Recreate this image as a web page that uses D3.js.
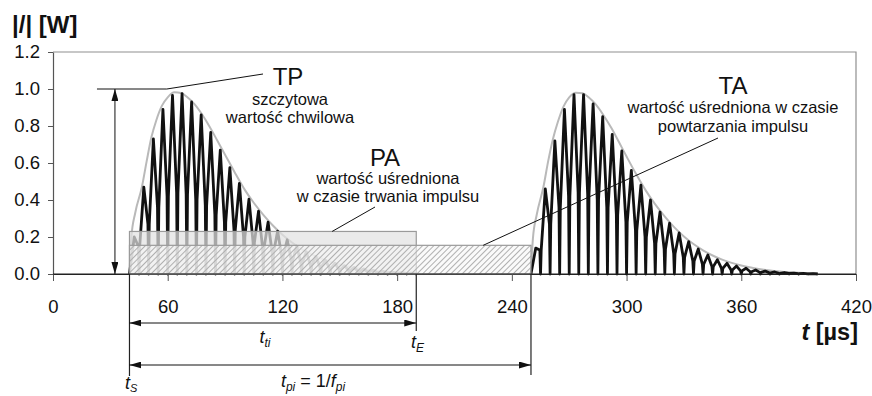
<!DOCTYPE html>
<html>
<head>
<meta charset="utf-8">
<script src="https://cdn.jsdelivr.net/npm/d3@7/dist/d3.min.js"></script>
<style>
  html, body { margin: 0; padding: 0; background: #fff; }
  svg { display: block; font-family: "Liberation Sans", Arial, Helvetica, sans-serif; }
</style>
</head>
<body>
<svg id="chart" width="872" height="396"></svg>
<script>
// Axis ticks: time in µs, power in W
const xTicks = [0, 60, 120, 180, 240, 300, 360, 420];
const yTicks = [0, 0.2, 0.4, 0.6, 0.8, 1.0, 1.2];

// Pulse 1: oscillation peaks, the shoulder level between consecutive peaks, gray envelope
const pulse1PeakTimes = [42.5, 47.5, 52.5, 57.5, 62.5, 67.5, 72.5, 77.5, 82.5, 87.5,
  92.5, 97.5, 102.5, 107.5, 112.5, 117.5, 122.5, 127.5, 132.5, 137.5,
  142.5, 147.5, 152.5, 157.5, 162.5, 167.5, 172.5, 177.5, 182.5, 187.5];
const pulse1Peaks = [0.2, 0.47, 0.73, 0.89, 0.965, 0.975, 0.93, 0.86, 0.765, 0.67,
  0.575, 0.49, 0.405, 0.34, 0.28, 0.232, 0.185, 0.15, 0.12, 0.095,
  0.075, 0.058, 0.045, 0.035, 0.027, 0.02, 0.015, 0.011, 0.008, 0.005];
const pulse1Shoulders = [0.15, 0.27, 0.36, 0.42, 0.44, 0.43, 0.40, 0.37, 0.32, 0.28,
  0.24, 0.20, 0.17, 0.14, 0.115, 0.094, 0.075, 0.06, 0.048, 0.038,
  0.03, 0.023, 0.018, 0.014, 0.011, 0.008, 0.006, 0.004, 0.003];
const pulse1EnvTimes = [40, 41, 43, 46.5, 49, 51.5, 54, 57, 60, 63.5, 67, 70, 74, 78, 82, 86, 90,
  95, 100, 105, 110, 115, 120, 125, 130, 135, 140, 145, 150, 155, 160, 165, 170, 175, 180, 185, 190];
const pulse1Env = [0, 0.2, 0.33, 0.47, 0.61, 0.74, 0.83, 0.91, 0.955, 0.982, 0.978, 0.958, 0.918,
  0.862, 0.795, 0.72, 0.645, 0.55, 0.46, 0.385, 0.32, 0.262, 0.212, 0.17, 0.135, 0.107, 0.085,
  0.066, 0.051, 0.039, 0.03, 0.023, 0.017, 0.012, 0.009, 0.006, 0.004];

// Pulse 2
const pulse2PeakTimes = [252.5, 257.5, 262.5, 267.5, 272.5, 277.5, 282.5, 287.5, 292.5, 297.5,
  302.5, 307.5, 312.5, 317.5, 322.5, 327.5, 332.5, 337.5, 342.5, 347.5,
  352.5, 357.5, 362.5, 367.5, 372.5, 377.5, 382.5, 387.5, 392.5, 397.5];
const pulse2Peaks = [0.14, 0.46, 0.72, 0.89, 0.97, 0.97, 0.92, 0.85, 0.755, 0.665,
  0.56, 0.48, 0.40, 0.335, 0.275, 0.222, 0.175, 0.135, 0.103, 0.077,
  0.058, 0.043, 0.031, 0.022, 0.016, 0.011, 0.008, 0.005, 0.003, 0.002];
const pulse2Shoulders = [0.13, 0.27, 0.36, 0.42, 0.44, 0.43, 0.40, 0.36, 0.32, 0.28,
  0.235, 0.20, 0.165, 0.135, 0.11, 0.09, 0.07, 0.053, 0.04, 0.03,
  0.022, 0.017, 0.012, 0.009, 0.006, 0.004, 0.003, 0.002, 0.001];
const pulse2EnvTimes = [250, 251, 253, 256.5, 259, 261.5, 264, 267, 270, 273.5, 277, 280, 284, 288,
  292, 296, 300, 305, 310, 315, 320, 325, 330, 335, 340, 345, 350, 355, 360, 365, 370, 375, 380,
  385, 390, 395, 400];
const pulse2Env = [0, 0.19, 0.32, 0.47, 0.61, 0.73, 0.82, 0.905, 0.955, 0.98, 0.977, 0.957, 0.915,
  0.857, 0.79, 0.713, 0.635, 0.54, 0.452, 0.376, 0.31, 0.252, 0.203, 0.162, 0.128, 0.1, 0.078,
  0.06, 0.046, 0.035, 0.026, 0.019, 0.014, 0.01, 0.007, 0.005, 0.003];

// Characteristic times (µs) and averaged levels (W)
const tStart = 40;       // t_S
const tEnd = 190;        // t_E
const tRepeat = 250;     // t_S + t_pi
const peakLevel = 1.0;   // TP
const pulseAvg = 0.23;   // PA
const periodAvg = 0.155; // TA

const svg = d3.select("#chart");
const x = d3.scaleLinear().domain([0, 420]).range([53, 856]);
const y = d3.scaleLinear().domain([0, 1.2]).range([274, 52]);

const defs = svg.append("defs");
const hatch = defs.append("pattern")
  .attr("id", "hatch").attr("patternUnits", "userSpaceOnUse")
  .attr("width", 4).attr("height", 4).attr("patternTransform", "rotate(45)");
hatch.append("rect").attr("width", 4).attr("height", 4).attr("fill", "rgba(246,246,246,0.6)");
hatch.append("line").attr("x1", 0.5).attr("y1", 0).attr("x2", 0.5).attr("y2", 4)
  .attr("stroke", "#b0b0b0").attr("stroke-width", 1);

defs.append("marker")
  .attr("id", "arrow").attr("viewBox", "0 0 12 7")
  .attr("refX", 12).attr("refY", 3.5)
  .attr("markerWidth", 12).attr("markerHeight", 7)
  .attr("markerUnits", "userSpaceOnUse")
  .attr("orient", "auto-start-reverse")
  .append("path").attr("d", "M0,0 L12,3.5 L0,7 Z").attr("fill", "#111");

// Plot frame (top and right)
svg.append("path")
  .attr("d", `M${x(0)},${y(1.2)} H${x(420)} V${y(0)}`)
  .attr("fill", "none").attr("stroke", "#8f8f8f").attr("stroke-width", 1.2);

// Axes
const xAxis = svg.append("g").attr("transform", `translate(0,${y(0)})`)
  .call(d3.axisBottom(x).tickValues(xTicks).tickSize(7).tickSizeOuter(0).tickPadding(19)
    .tickFormat(d3.format("d")));
const yAxis = svg.append("g").attr("transform", `translate(${x(0)},0)`)
  .call(d3.axisLeft(y).tickValues(yTicks).tickSize(5).tickSizeOuter(0).tickPadding(8)
    .tickFormat(d3.format(".1f")));
[xAxis, yAxis].forEach(g => {
  g.selectAll("text").attr("font-size", 18.5).attr("fill", "#111")
    .attr("font-family", "'Liberation Sans', Arial, sans-serif");
  g.selectAll(".tick line").attr("stroke", "#555");
});
xAxis.select(".domain").attr("stroke", "#222").attr("stroke-width", 1.2);
yAxis.select(".domain").attr("stroke", "#555").attr("stroke-width", 1.2);

// Signal built from peaks and shoulders
function signalPoints(times, peaks, shoulders, t0, t1) {
  const pts = [[t0, 0]];
  times.forEach((t, i) => {
    pts.push([t, peaks[i]]);
    if (i < shoulders.length) {
      const m = (t + times[i + 1]) / 2;
      pts.push([m - 0.35, shoulders[i]], [m, 0], [m + 0.35, shoulders[i]]);
    }
  });
  pts.push([t1, 0]);
  return pts;
}
const line = d3.line().x(d => x(d[0])).y(d => y(d[1]));
const envLine = d3.line().x(d => x(d[0])).y(d => y(d[1])).curve(d3.curveMonotoneX);

const pulses = [
  { times: pulse1PeakTimes, peaks: pulse1Peaks, sh: pulse1Shoulders, et: pulse1EnvTimes, ev: pulse1Env, t0: 40, t1: 190 },
  { times: pulse2PeakTimes, peaks: pulse2Peaks, sh: pulse2Shoulders, et: pulse2EnvTimes, ev: pulse2Env, t0: 250, t1: 400 }
];
pulses.forEach(p => {
  svg.append("path")
    .datum(p.et.map((t, i) => [t, p.ev[i]]))
    .attr("d", envLine).attr("fill", "none")
    .attr("stroke", "#b9b9b9").attr("stroke-width", 2);
  svg.append("path")
    .datum(signalPoints(p.times, p.peaks, p.sh, p.t0, p.t1))
    .attr("d", line).attr("fill", "none")
    .attr("stroke", "#111").attr("stroke-width", 2.8).attr("stroke-linejoin", "round");
});

// PA rectangle (average over pulse duration) and TA rectangle (average over repetition period)
svg.append("rect")
  .attr("x", x(tStart)).attr("y", y(pulseAvg))
  .attr("width", x(tEnd) - x(tStart)).attr("height", y(0) - y(pulseAvg))
  .attr("fill", "rgba(226,226,226,0.72)").attr("stroke", "#9a9a9a").attr("stroke-width", 1.2);
svg.append("rect")
  .attr("x", x(tStart)).attr("y", y(periodAvg))
  .attr("width", x(tRepeat) - x(tStart)).attr("height", y(0) - y(periodAvg))
  .attr("fill", "url(#hatch)").attr("stroke", "#9a9a9a").attr("stroke-width", 1.2);

// Redraw x axis line on top
svg.append("line").attr("x1", x(0)).attr("x2", x(420)).attr("y1", y(0)).attr("y2", y(0))
  .attr("stroke", "#222").attr("stroke-width", 1.2);

const ink = "#111";
// TP marker: level line, leader and double arrow
svg.append("polyline")
  .attr("points", `${x(23)},${y(peakLevel)} ${x(59.5)},${y(peakLevel)} 263,74`)
  .attr("fill", "none").attr("stroke", ink).attr("stroke-width", 1);
svg.append("line")
  .attr("x1", x(32.4)).attr("x2", x(32.4)).attr("y1", y(0)).attr("y2", y(peakLevel))
  .attr("stroke", ink).attr("stroke-width", 1)
  .attr("marker-start", "url(#arrow)").attr("marker-end", "url(#arrow)");

// Leaders to PA and TA
svg.append("line").attr("x1", 375).attr("y1", 207).attr("x2", x(146)).attr("y2", y(pulseAvg))
  .attr("stroke", ink).attr("stroke-width", 1);
svg.append("line").attr("x1", 718).attr("y1", 138).attr("x2", x(225)).attr("y2", y(periodAvg))
  .attr("stroke", ink).attr("stroke-width", 1);

// Time markers below the axis
svg.append("line").attr("x1", x(tStart)).attr("x2", x(tStart)).attr("y1", y(0)).attr("y2", 376)
  .attr("stroke", "#222").attr("stroke-width", 1.2);
svg.append("line").attr("x1", x(tEnd)).attr("x2", x(tEnd)).attr("y1", y(0)).attr("y2", 331)
  .attr("stroke", "#222").attr("stroke-width", 1.2);
svg.append("line").attr("x1", x(tRepeat)).attr("x2", x(tRepeat)).attr("y1", y(0)).attr("y2", 375)
  .attr("stroke", "#222").attr("stroke-width", 1.2);
svg.append("line").attr("x1", x(tStart)).attr("x2", x(tEnd)).attr("y1", 323).attr("y2", 323)
  .attr("stroke", ink).attr("stroke-width", 1)
  .attr("marker-start", "url(#arrow)").attr("marker-end", "url(#arrow)");
svg.append("line").attr("x1", x(tStart)).attr("x2", x(tRepeat)).attr("y1", 365).attr("y2", 365)
  .attr("stroke", ink).attr("stroke-width", 1)
  .attr("marker-start", "url(#arrow)").attr("marker-end", "url(#arrow)");

// Text helper
function label(xp, yp, anchor, size, parts) {
  const t = svg.append("text").attr("x", xp).attr("y", yp)
    .attr("text-anchor", anchor).attr("font-size", size).attr("fill", ink);
  parts.forEach(p => {
    const s = t.append("tspan").text(p.text);
    if (p.italic) s.attr("font-style", "italic");
    if (p.bold) s.attr("font-weight", "bold");
    if (p.size) s.attr("font-size", p.size);
    if (p.dy) s.attr("dy", p.dy);
  });
  return t;
}

// Axis titles
label(12, 33, "start", 24, [{ text: "|/| [W]", bold: true }]);
label(858, 340, "end", 23.5, [{ text: "t", bold: true, italic: true }, { text: " [µs]", bold: true }]);

// Annotations
label(288, 85, "middle", 24, [{ text: "TP" }]);
label(290, 105, "middle", 16.5, [{ text: "szczytowa" }]);
label(290, 123, "middle", 16.5, [{ text: "wartość chwilowa" }]);

label(385, 166, "middle", 24, [{ text: "PA" }]);
label(388, 184, "middle", 16.5, [{ text: "wartość uśredniona" }]);
label(388, 202, "middle", 16.5, [{ text: "w czasie trwania impulsu" }]);

label(733, 94, "middle", 24, [{ text: "TA" }]);
label(733, 113, "middle", 16.5, [{ text: "wartość uśredniona w czasie" }]);
label(733, 132, "middle", 16.5, [{ text: "powtarzania impulsu" }]);

// Time labels
label(265, 343, "middle", 18, [{ text: "t", italic: true }, { text: "ti", italic: true, size: 12, dy: 4 }]);
label(411, 348, "start", 18, [{ text: "t", italic: true }, { text: "E", italic: true, size: 12, dy: 4 }]);
label(313, 387, "middle", 18, [
  { text: "t", italic: true }, { text: "pi", italic: true, size: 12, dy: 4 },
  { text: " = 1/", dy: -4 }, { text: "f", italic: true }, { text: "pi", italic: true, size: 12, dy: 4 }]);
label(125, 389, "start", 18, [{ text: "t", italic: true }, { text: "S", italic: true, size: 11, dy: 3 }]);
</script>
</body>
</html>
